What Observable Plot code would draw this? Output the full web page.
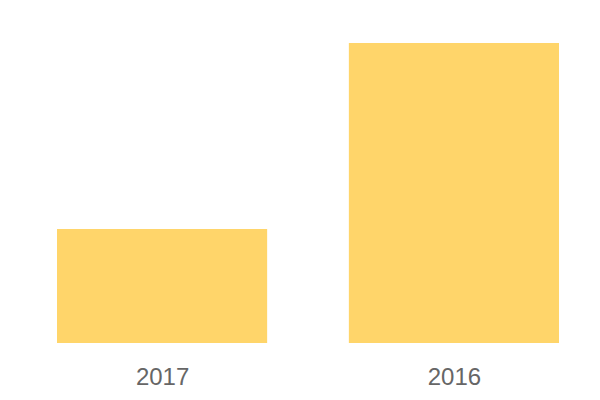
<!DOCTYPE html>
<html>
<head>
<meta charset="utf-8">
<script src="https://cdn.jsdelivr.net/npm/d3@7"></script>
<script src="https://cdn.jsdelivr.net/npm/@observablehq/plot@0.6"></script>
<style>
  html, body { margin: 0; padding: 0; background: #fff; }
</style>
</head>
<body>
<div id="chart"></div>
<script>
const years = ["2017", "2016"];
const values = [38, 100];

const data = years.map((y, i) => ({year: y, value: values[i]}));

const chart = Plot.plot({
  width: 600,
  height: 400,
  marginLeft: 57,
  marginRight: 41,
  marginTop: 43,
  marginBottom: 57,
  style: {fontFamily: "'Liberation Sans', Arial, sans-serif", background: "#fff"},
  x: {domain: years, paddingInner: 0.28, paddingOuter: 0, round: false, label: null},
  y: {domain: [0, 100], axis: null},
  marks: [
    Plot.barY(data, {x: "year", y: "value", fill: "#FFD56A"}),
    Plot.axisX({tickSize: 0, tickPadding: 24, fontSize: 24, color: "#666", label: null})
  ]
});
document.getElementById("chart").append(chart);
</script>
</body>
</html>
